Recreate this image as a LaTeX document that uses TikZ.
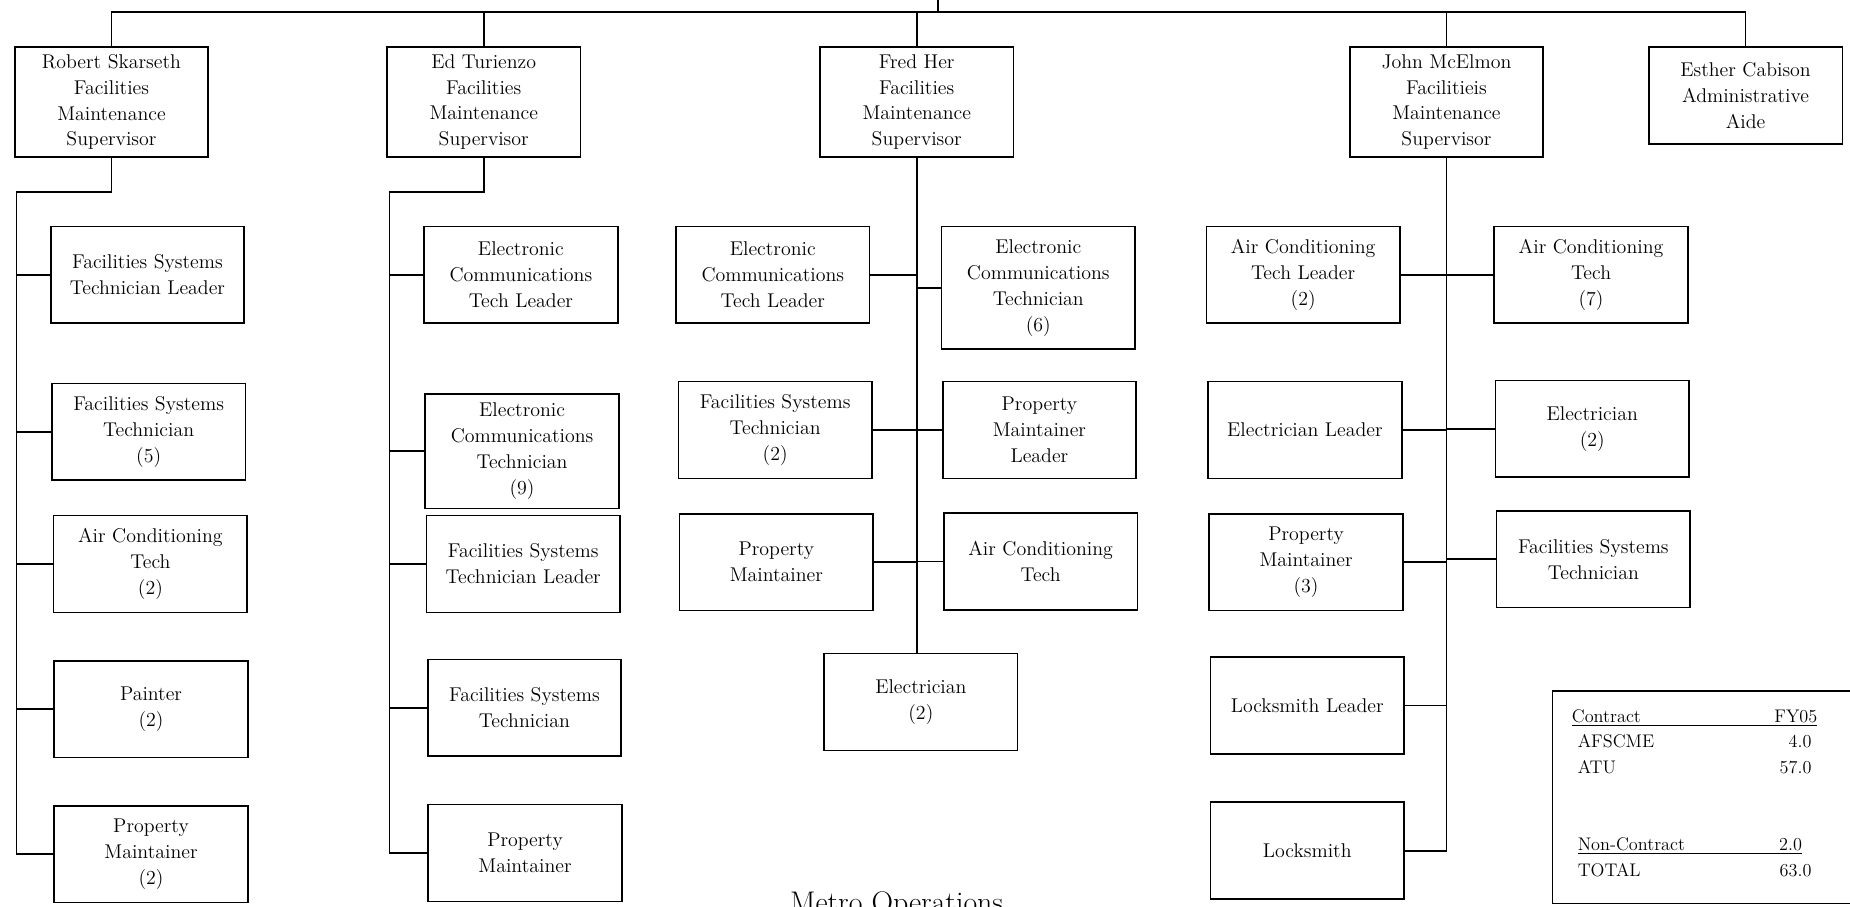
\documentclass[tikz,border=0pt]{standalone}
\tikzset{
  post/.style={draw, line width=1pt, align=center, minimum width=4.1cm,
    minimum height=2.05cm, inner sep=1pt, font=\fontsize{12}{15.6}\selectfont},
  boss/.style={post, minimum height=2.33cm},
  link/.style={line width=1pt},
}
\begin{document}
\begin{tikzpicture}[x=0.025cm, y=-0.025cm]
  \clip (0,0) rectangle (1568,768);

  % Supervisors
  \node[boss] (rob) at (94.5,86.5) {Robert Skarseth\\Facilities\\Maintenance\\Supervisor};
  \node[boss] (ed) at (410,86.5) {Ed Turienzo\\Facilities\\Maintenance\\Supervisor};
  \node[boss] (fred) at (777,86.5) {Fred Her\\Facilities\\Maintenance\\Supervisor};
  \node[boss] (john) at (1226,86.5) {John McElmon\\Facilitieis\\Maintenance\\Supervisor};
  \node[post] (esther) at (1479.5,81) {Esther Cabison\\Administrative\\Aide};

  % Top bus
  \coordinate (bus) at (0,10);
  \coordinate (parent) at (795,0);
  \draw[link] (rob.north |- bus) -- (esther.north |- bus);
  \draw[link] (parent) -- (parent |- bus);
  \foreach \b in {rob,ed,fred,john,esther}
    \draw[link] (\b.north) -- (\b.north |- bus);

  % Robert Skarseth column
  \node[post] (rs1) at (125,233) {Facilities Systems\\Technician Leader};
  \node[post] (rs2) at (126,366) {Facilities Systems\\Technician\\(5)};
  \node[post] (rs3) at (127.5,478) {Air Conditioning\\Tech\\(2)};
  \node[post] (rs4) at (128,601) {Painter\\(2)};
  \node[post] (rs5) at (128,724) {Property\\Maintainer\\(2)};
  \coordinate (rtrunk) at (14,163);
  \draw[link] (rob.south) |- (rtrunk) |- (rs5.west);
  \foreach \n in {rs1,rs2,rs3,rs4}
    \draw[link] (\n.west) -- (\n.west -| rtrunk);

  % Ed Turienzo column
  \node[post] (et1) at (441.5,233) {Electronic\\Communications\\Tech Leader};
  \node[post, minimum height=2.43cm] (et2) at (442.5,382.5) {Electronic\\Communications\\Technician\\(9)};
  \node[post] (et3) at (443.5,478) {Facilities Systems\\Technician Leader};
  \node[post] (et4) at (444.5,600) {Facilities Systems\\Technician};
  \node[post] (et5) at (445,723) {Property\\Maintainer};
  \coordinate (etrunk) at (330,163);
  \draw[link] (ed.south) |- (etrunk) |- (et5.west);
  \foreach \n in {et1,et2,et3,et4}
    \draw[link] (\n.west) -- (\n.west -| etrunk);

  % Fred Her column
  \node[post] (fh1) at (655,233) {Electronic\\Communications\\Tech Leader};
  \node[post, minimum height=2.6cm] (fh2) at (880,244) {Electronic\\Communications\\Technician\\(6)};
  \node[post] (fh3) at (657,364.5) {Facilities Systems\\Technician\\(2)};
  \node[post] (fh4) at (881,364.5) {Property\\Maintainer\\Leader};
  \node[post] (fh5) at (658,476.5) {Property\\Maintainer};
  \node[post] (fh6) at (882,476) {Air Conditioning\\Tech};
  \node[post] (fh7) at (780.5,595) {Electrician\\(2)};
  \draw[link] (fred.south) -- (fred.south |- fh7.north);
  \foreach \n in {fh1,fh3,fh5}
    \draw[link] (\n.east) -- (\n.east -| fred.south);
  \foreach \n in {fh2,fh4,fh6}
    \draw[link] (\n.west) -- (\n.west -| fred.south);

  % John McElmon column
  \node[post] (jm1) at (1104.5,233) {Air Conditioning\\Tech Leader\\(2)};
  \node[post] (jm2) at (1348.5,233) {Air Conditioning\\Tech\\(7)};
  \node[post] (jm3) at (1106,364.5) {Electrician Leader};
  \node[post] (jm4) at (1349.5,363.5) {Electrician\\(2)};
  \node[post] (jm5) at (1107,476.5) {Property\\Maintainer\\(3)};
  \node[post] (jm6) at (1350.5,474) {Facilities Systems\\Technician};
  \node[post] (jm7) at (1108,598) {Locksmith Leader};
  \node[post] (jm8) at (1108,721) {Locksmith};
  \draw[link] (john.south) |- (jm8.east);
  \foreach \n in {jm1,jm3,jm5,jm7}
    \draw[link] (\n.east) -- (\n.east -| john.south);
  \foreach \n in {jm2,jm4,jm6}
    \draw[link] (\n.west) -- (\n.west -| john.south);

  % Head count
  \node[draw, line width=1pt, anchor=north west, minimum width=6.7cm,
    minimum height=4.5cm] (tally) at (1315,585) {};
  \node[anchor=north west, align=left, inner sep=0pt,
    font=\fontsize{11}{15.5}\selectfont] (tallytext) at (1332,601) {%
    \underline{\makebox[5.2cm][l]{Contract\hfill FY05}}\\
    \hspace*{0.125cm}\makebox[4.95cm][l]{AFSCME\hfill 4.0}\\
    \hspace*{0.125cm}\makebox[4.95cm][l]{ATU\hfill 57.0}\\[31pt]
    \hspace*{0.125cm}\underline{\makebox[4.75cm][l]{Non-Contract\hfill 2.0}}\\
    \hspace*{0.125cm}\makebox[4.95cm][l]{TOTAL\hfill 63.0}};

  % Title
  \node[anchor=base, font=\fontsize{18}{21}\selectfont] (title) at (760,773) {Metro Operations};
\end{tikzpicture}
\end{document}
